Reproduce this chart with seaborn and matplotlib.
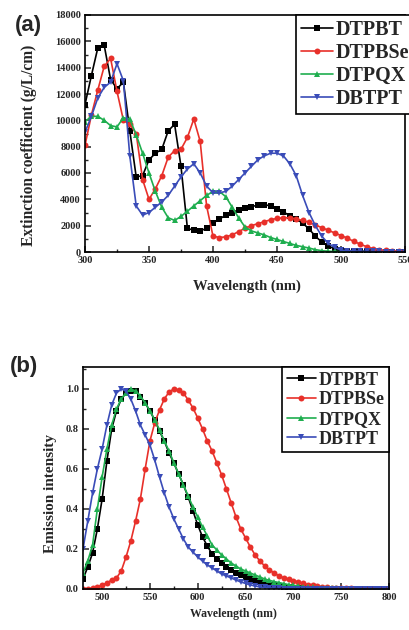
import numpy as np
import pandas as pd
import matplotlib
matplotlib.use("Agg")
import matplotlib.pyplot as plt
import seaborn as sns
from matplotlib.ticker import MultipleLocator

# ---------------- data: panel (a) absorption ----------------
wl_abs = list(range(300, 551, 5))
abs_dtpbt = [11200, 13400, 15500, 15700, 13100, 12400, 12900, 9200, 5700, 5800,
             7000, 7500, 7800, 9200, 9700, 6500, 1800, 1650, 1600, 1800,
             2200, 2500, 2800, 3000, 3200, 3350, 3450, 3550, 3600, 3500,
             3300, 3050, 2750, 2500, 2200, 1750, 1200, 750, 450, 250,
             150, 100, 80, 60, 50, 40, 30, 30, 20, 20, 20]
abs_dtpbse = [8100, 10400, 12300, 14100, 14700, 12200, 10000, 9700, 9000, 5500,
              4000, 4800, 5800, 7200, 7700, 7800, 8700, 10100, 8400, 3500,
              1200, 1100, 1150, 1300, 1550, 1800, 2000, 2150, 2300, 2450,
              2550, 2600, 2600, 2500, 2400, 2250, 2050, 1850, 1650, 1450,
              1250, 1050, 800, 600, 400, 250, 170, 120, 80, 60, 50]
abs_dtpqx = [9900, 10300, 10300, 10000, 9600, 9500, 10200, 10100, 8900, 7500,
             6000, 4600, 3400, 2600, 2400, 2700, 3100, 3500, 3900, 4300,
             4600, 4600, 4200, 3400, 2600, 1900, 1600, 1450, 1300, 1100,
             950, 800, 650, 500, 400, 300, 180, 100, 60, 40,
             30, 25, 20, 20, 20, 15, 15, 15, 10, 10, 10]
abs_dbtpt = [9100, 10300, 11700, 12500, 12900, 14300, 13000, 7300, 3500, 2800,
             3000, 3400, 3800, 4300, 5000, 5700, 6300, 6700, 6000, 5000,
             4500, 4500, 4600, 5000, 5500, 6000, 6500, 7000, 7300, 7500,
             7500, 7300, 6700, 5800, 4300, 3000, 2000, 1200, 650, 350,
             150, 100, 80, 60, 50, 40, 40, 30, 30, 30, 30]

# ---------------- data: panel (b) emission ----------------
wl_em = list(range(480, 801, 5))
em_dtpbt = [0.05, 0.11, 0.18, 0.30, 0.45, 0.64, 0.80, 0.89, 0.95, 0.98,
            0.99, 0.99, 0.96, 0.93, 0.89, 0.845, 0.79, 0.74, 0.68, 0.63,
            0.575, 0.52, 0.46, 0.39, 0.32, 0.26, 0.215, 0.175, 0.15, 0.13,
            0.11, 0.095, 0.08, 0.068, 0.058, 0.048, 0.04, 0.033, 0.027, 0.022,
            0.018, 0.014, 0.011, 0.008, 0.006, 0.005, 0.004, 0.003, 0.002, 0.002,
            0.001, 0.001, 0.001, 0.0, 0.0, 0.0, 0.0, 0.0, 0.0, 0.0,
            0.0, 0.0, 0.0, 0.0, 0.0]
em_dtpbse = [0.0, 0.0, 0.005, 0.01, 0.02, 0.03, 0.045, 0.055, 0.09, 0.16,
             0.24, 0.34, 0.45, 0.60, 0.74, 0.83, 0.895, 0.95, 0.985, 1.0,
             0.995, 0.98, 0.945, 0.905, 0.855, 0.80, 0.74, 0.69, 0.63, 0.57,
             0.50, 0.43, 0.36, 0.30, 0.255, 0.21, 0.17, 0.14, 0.115, 0.095,
             0.08, 0.065, 0.055, 0.048, 0.042, 0.035, 0.028, 0.022, 0.018, 0.014,
             0.011, 0.009, 0.007, 0.005, 0.004, 0.003, 0.003, 0.002, 0.002, 0.001,
             0.001, 0.001, 0.001, 0.0, 0.0]
em_dtpqx = [0.08, 0.14, 0.22, 0.40, 0.56, 0.70, 0.82, 0.90, 0.95, 0.98,
            1.0, 0.99, 0.965, 0.93, 0.89, 0.845, 0.795, 0.74, 0.69, 0.63,
            0.575, 0.52, 0.465, 0.41, 0.36, 0.31, 0.265, 0.22, 0.195, 0.17,
            0.15, 0.13, 0.115, 0.10, 0.09, 0.08, 0.07, 0.06, 0.05, 0.043,
            0.037, 0.032, 0.027, 0.022, 0.018, 0.015, 0.012, 0.010, 0.008, 0.006,
            0.005, 0.004, 0.003, 0.003, 0.002, 0.002, 0.001, 0.001, 0.001, 0.001,
            0.0, 0.0, 0.0, 0.0, 0.0]
em_dbtpt = [0.20, 0.34, 0.48, 0.60, 0.70, 0.82, 0.92, 0.98, 1.0, 0.99,
            0.95, 0.89, 0.82, 0.77, 0.72, 0.645, 0.56, 0.48, 0.41, 0.35,
            0.30, 0.25, 0.21, 0.185, 0.16, 0.14, 0.12, 0.105, 0.09, 0.075,
            0.065, 0.055, 0.045, 0.035, 0.028, 0.02, 0.015, 0.01, 0.008, 0.006,
            0.004, 0.003, 0.002, 0.002, 0.001, 0.001, 0.0, 0.0, 0.0, 0.0,
            0.0, 0.0, 0.0, 0.0, 0.0, 0.0, 0.0, 0.0, 0.0, 0.0,
            0.0, 0.0, 0.0, 0.0, 0.0]

names = ["DTPBT", "DTPBSe", "DTPQX", "DBTPT"]
colors = ["#000000", "#e8302a", "#1fae4f", "#3a4cb8"]
markers = ["s", "o", "^", "v"]

sns.set_style("ticks")
plt.rcParams["font.family"] = ["Liberation Serif", "DejaVu Serif"]
plt.rcParams["font.weight"] = "bold"
plt.rcParams["axes.linewidth"] = 1.2

fig = plt.figure(figsize=(4.09, 6.30), dpi=100)
W, H = 409.0, 630.0

def add_axes(l, r, t, b):
    return fig.add_axes([l / W, 1 - b / H, (r - l) / W, (b - t) / H])

ax1 = add_axes(85, 405, 15, 252)
ax2 = add_axes(83, 389, 367, 589)

abs_series = [abs_dtpbt, abs_dtpbse, abs_dtpqx, abs_dbtpt]
em_series = [em_dtpbt, em_dtpbse, em_dtpqx, em_dbtpt]

for ax, xs, series in [(ax1, wl_abs, abs_series), (ax2, wl_em, em_series)]:
    for name, col, mk, ys in zip(names, colors, markers, series):
        df = pd.DataFrame({"x": xs, "y": ys})
        sns.lineplot(data=df, x="x", y="y", ax=ax, color=col, marker=mk,
                     markersize=4.3, markeredgewidth=0, linewidth=1.2,
                     label=name)

# axes ranges and ticks
ax1.set_xlim(300, 550)
ax1.set_ylim(0, 18000)
ax1.xaxis.set_major_locator(MultipleLocator(50))
ax1.xaxis.set_minor_locator(MultipleLocator(25))
ax1.yaxis.set_major_locator(MultipleLocator(2000))
ax1.yaxis.set_minor_locator(MultipleLocator(1000))

ax2.set_xlim(480, 800)
ax2.set_ylim(0, 1.11)
ax2.xaxis.set_major_locator(MultipleLocator(50))
ax2.xaxis.set_minor_locator(MultipleLocator(25))
ax2.yaxis.set_major_locator(MultipleLocator(0.2))
ax2.yaxis.set_minor_locator(MultipleLocator(0.1))
ax2.yaxis.set_major_formatter(matplotlib.ticker.FormatStrFormatter("%.1f"))

for ax in (ax1, ax2):
    ax.tick_params(which="major", direction="in", length=4, width=1.1,
                   labelsize=7.5, pad=3)
    ax.tick_params(which="minor", direction="in", length=2.5, width=1.0)
    for lab in ax.get_xticklabels() + ax.get_yticklabels():
        lab.set_fontweight("bold")
    for sp in ax.spines.values():
        sp.set_visible(True)
        sp.set_color("black")

ax1.set_xlabel("Wavelength (nm)", fontsize=10.5, fontweight="bold")
ax1.set_ylabel("Extinction coefficient (g/L/cm)", fontsize=11.2, fontweight="bold")
ax1.xaxis.set_label_coords(0.506, -0.118)
ax1.yaxis.set_label_coords(-0.15, 0.45)

ax2.set_xlabel("Wavelength (nm)", fontsize=8.5, fontweight="bold")
ax2.set_ylabel("Emission intensity", fontsize=11, fontweight="bold")
ax2.xaxis.set_label_coords(0.49, -0.086)
ax2.yaxis.set_label_coords(-0.085, 0.43)

leg_kw = dict(frameon=True, fancybox=False, framealpha=1, edgecolor="black",
              borderaxespad=0, handlelength=1.6, handletextpad=0.15,
              labelspacing=0.15, borderpad=0.25)
l1 = ax1.legend(loc="upper left", bbox_to_anchor=(0.659, 1.0),
                prop={"family": "Liberation Serif", "weight": "bold", "size": 14.5},
                **leg_kw)
l2 = ax2.legend(loc="upper right", bbox_to_anchor=(1.0, 1.0),
                prop={"family": "Liberation Serif", "weight": "bold", "size": 13},
                **leg_kw)
for l in (l1, l2):
    l.get_frame().set_linewidth(1.2)

fig.text(28 / W, 1 - 25 / H, "(a)", fontsize=16, fontweight="bold",
         family=["Liberation Sans", "DejaVu Sans"], ha="center", va="center")
fig.text(24 / W, 1 - 366 / H, "(b)", fontsize=16, fontweight="bold",
         family=["Liberation Sans", "DejaVu Sans"], ha="center", va="center")

fig.savefig("out.png", dpi=100)
